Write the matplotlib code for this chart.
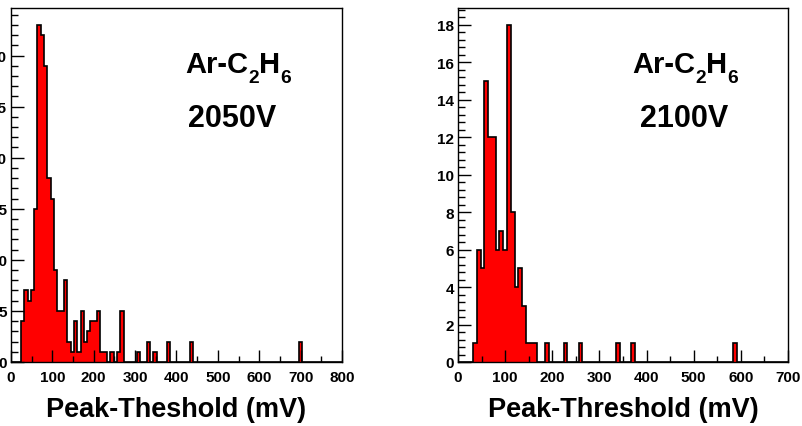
import numpy as np
import matplotlib.pyplot as plt
from matplotlib.ticker import MultipleLocator

plt.rcParams['font.family'] = 'Liberation Sans'
plt.rcParams['font.weight'] = 'bold'

BIN = 8  # mV per bin

# 2050 V: lower edge of each non-empty bin and its entries
left_lo = [24, 32, 40, 48, 56, 64, 72, 80, 88, 96,
           104, 112, 120, 128, 136, 144, 152, 160, 168, 176,
           184, 192, 200, 208, 216, 224, 240, 256, 264, 304,
           328, 344, 376, 432, 696]
left_n = [4, 7, 6, 7, 15, 33, 32, 29, 18, 16,
          9, 5, 5, 8, 2, 1, 4, 1, 5, 2,
          3, 4, 4, 5, 1, 1, 1, 1, 5, 1,
          2, 1, 2, 2, 2]

# 2100 V
right_lo = [32, 40, 48, 56, 64, 72, 80, 88, 96, 104, 112, 120,
            128, 136, 144, 152, 160, 184, 224, 256, 336, 368, 584]
right_n = [1, 6, 5, 15, 12, 12, 6, 7, 6, 18, 8, 4,
           5, 3, 1, 1, 1, 1, 1, 1, 1, 1, 1]

gas = [('Ar-C', False), ('2', True), ('H', False), ('6', True)]


def fill_hist(lo, n, xmax):
    edges = np.arange(0, xmax + BIN, BIN)
    counts = np.zeros(len(edges) - 1)
    counts[np.array(lo) // BIN] = n
    return counts, edges


W, H = 803, 427
fig = plt.figure(figsize=(W / 100, H / 100), dpi=100)
r = fig.canvas.get_renderer()


def chem_label(xc, ybase, size):
    # ROOT-like subscripts: smaller and dropped below the baseline
    ts, ws = [], []
    for s, sub in gas:
        t = fig.text(0, 0, s, fontsize=size * (0.66 if sub else 1),
                     fontweight='bold', va='baseline')
        ts.append((t, sub))
        ws.append(t.get_window_extent(r).width)
    x = xc - sum(ws) / 2
    for (t, sub), w in zip(ts, ws):
        y = ybase + (10 if sub else 0)
        t.set_position((x / W, 1 - y / H))
        x += w


def panel(x0, x1, lo, n, xmax, ymaj, ymin, label, volt, xc, vc):
    ax = fig.add_axes([x0 / W, 1 - 363 / H, (x1 - x0) / W, (363 - 9) / H])
    counts, edges = fill_hist(lo, n, 800)
    ax.stairs(counts, edges, fill=True, color='#ff0000', lw=0)
    ax.stairs(counts, edges, color='black', lw=1.2)
    ax.set_xlim(0, xmax)
    ax.set_ylim(0, 1.05 * max(n))
    ax.xaxis.set_major_locator(MultipleLocator(100))
    ax.xaxis.set_minor_locator(MultipleLocator(50))
    ax.yaxis.set_major_locator(MultipleLocator(ymaj))
    ax.yaxis.set_minor_locator(MultipleLocator(ymin))
    ax.tick_params(which='both', direction='in', top=False, right=False,
                   labelsize=11, width=1)
    ax.tick_params(axis='x', which='major', length=9, pad=6)
    ax.tick_params(axis='x', which='minor', length=4.5)
    ax.tick_params(axis='y', which='major', length=9, pad=3)
    ax.tick_params(axis='y', which='minor', length=5)
    for s in ax.spines.values():
        s.set_linewidth(1)
    chem_label(xc, 73, 21)
    fig.text(vc / W, 1 - 127 / H, volt, ha='center', va='baseline',
             fontsize=22, fontweight='bold')
    fig.text((x0 + x1) / 2 / W, 1 - 417 / H, label, ha='center',
             va='baseline', fontsize=19.5, fontweight='bold')
    return ax


panel(11, 342, left_lo, left_n, 800, 5, 1, 'Peak-Theshold (mV)', '2050V',
      238, 232)
panel(458, 788, right_lo, right_n, 700, 2, 0.4, 'Peak-Threshold (mV)',
      '2100V', 685, 684)

plt.savefig('out.png', dpi=100)
